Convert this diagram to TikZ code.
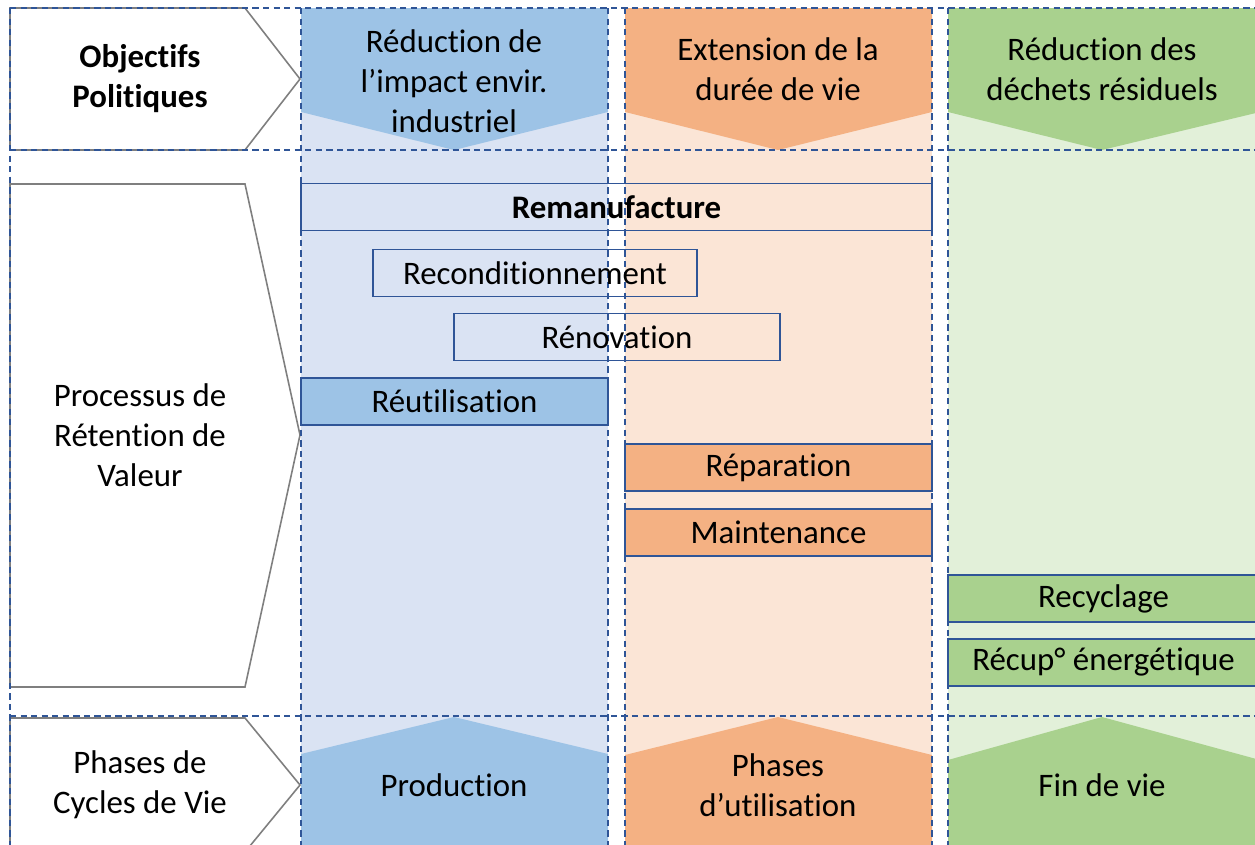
\documentclass[tikz,border=0pt]{standalone}
\usepackage{fontspec}
\setmainfont{Carlito}[Ligatures=CommonOff]
\usepackage{tikz}
\definecolor{bluedark}{HTML}{9DC3E6}
\definecolor{bluelight}{HTML}{DAE3F3}
\definecolor{orangedark}{HTML}{F4B183}
\definecolor{orangelight}{HTML}{FBE5D6}
\definecolor{greendark}{HTML}{A9D18E}
\definecolor{greenlight}{HTML}{E2F0D9}
\definecolor{frameblue}{HTML}{2F5597}
\definecolor{shapegray}{HTML}{7F7F7F}

\begin{document}
\begin{tikzpicture}[x=0.02cm,y=-0.02cm]
    \useasboundingbox (0,0) rectangle (1255,845);
    \clip (0,0) rectangle (1255,845);
    \tikzstyle {label} = [align=center, font=\fontsize{18.7}{22.8}\selectfont];
    \tikzstyle {pentagon} = [draw=shapegray, fill=white, line width=0.9pt];
    \tikzstyle {grid} = [draw=frameblue, dash pattern=on 3.6pt off 2.4pt, line width=1pt];
    \tikzstyle {process} = [shape=rectangle, draw=frameblue, line width=1.1pt, minimum height=0.94cm, inner sep=0pt, label];
    %% columns
    \fill [bluelight] (301,8) rectangle (608,850);
    \fill [orangelight] (625,8) rectangle (932,850);
    \fill [greenlight] (948,8) rectangle (1260,850);
    \fill [bluedark] (301,8) -- (608,8) -- (608,112) -- (454,150) -- (301,112) -- cycle;
    \fill [orangedark] (625,8) -- (932,8) -- (932,112) -- (778,150) -- (625,112) -- cycle;
    \fill [greendark] (948,8) -- (1260,8) -- (1260,112) -- (1102,150) -- (948,112) -- cycle;
    \fill [bluedark] (301,850) -- (301,754) -- (454,717) -- (608,754) -- (608,850) -- cycle;
    \fill [orangedark] (625,850) -- (625,755) -- (778,717) -- (932,755) -- (932,850) -- cycle;
    \fill [greendark] (948,850) -- (948,760) -- (1102,717) -- (1260,760) -- (1260,850) -- cycle;
    \node (obj1) [label] at (454,81) {Réduction de\\l’impact envir.\\industriel};
    \node (obj2) [label] at (778,69) {Extension de la\\durée de vie};
    \node (obj3) [label] at (1102,69) {Réduction des\\déchets résiduels};
    \node (ph1) [label] at (454,785) {Production};
    \node (ph2) [label] at (778,785) {Phases\\d’utilisation};
    \node (ph3) [label] at (1102,785) {Fin de vie};
    %% row headers
    \draw [pentagon] (10,8) -- (245,8) -- (300,79) -- (245,150) -- (10,150) -- cycle;
    \draw [pentagon] (10,184) -- (245,184) -- (300,435) -- (245,687) -- (10,687) -- cycle;
    \draw [pentagon] (10,718) -- (245,718) -- (300,785) -- (245,852) -- (10,852) -- cycle;
    \node (objectifs) [label, font=\fontsize{18.7}{22.8}\selectfont\bfseries] at (140,79) {Objectifs\\Politiques};
    \node (processus) [label] at (140,435) {Processus de\\Rétention de\\Valeur};
    \node (phases) [label] at (140,785) {Phases de\\Cycles de Vie};
    %% dashed grid
    \foreach \y in {8,150,716}
        \draw [grid] (10,\y) -- (1262,\y);
    \foreach \x in {10,301,608,625,932,948}
        \draw [grid] (\x,8) -- (\x,852);
    %% value retention processes
    \node (reman) [process, minimum width=12.62cm, font=\fontsize{18.7}{22.8}\selectfont\bfseries] at (616.5,207) {Remanufacture};
    \node (recond) [process, minimum width=6.48cm] at (535,273) {Reconditionnement};
    \node (renov) [process, minimum width=6.52cm] at (617,337) {Rénovation};
    \node (reuse) [process, fill=bluedark, minimum width=6.14cm] at (454.5,401.5) {Réutilisation};
    \node (repair) [process, fill=orangedark, minimum width=6.14cm] at (778.5,467.5) {Réparation};
    \node (maint) [process, fill=orangedark, minimum width=6.14cm] at (778.5,532.5) {Maintenance};
    \node (recyc) [process, fill=greendark, minimum width=6.22cm] at (1103.5,598.5) {Recyclage};
    \node (energy) [process, fill=greendark, minimum width=6.22cm] at (1103.5,662.5) {Récup° énergétique};
\end{tikzpicture}
\end{document}
